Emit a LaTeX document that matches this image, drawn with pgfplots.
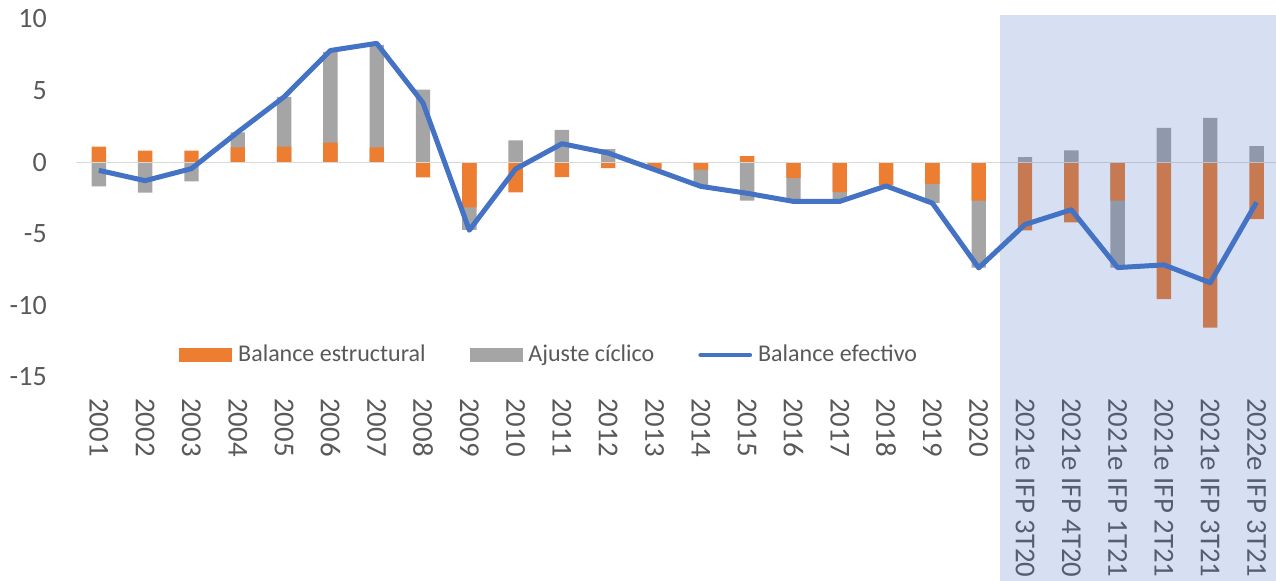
\documentclass[border=0pt]{standalone}
\usepackage{pgfplots}
\usepackage{pgfplotstable}
\pgfplotsset{compat=1.18}
\usepackage{fontspec}
\setmainfont{Carlito}
\definecolor{cOr}{HTML}{ED7D31}
\definecolor{cGr}{HTML}{A5A5A5}
\definecolor{cBl}{HTML}{4472C4}
\definecolor{cTx}{HTML}{595959}
\definecolor{cZero}{HTML}{D9D9D9}
\pgfplotstableread{
x or gr bal
0 1.08 -1.69 -0.57
1 0.80 -2.13 -1.29
2 0.80 -1.34 -0.45
3 1.04 2.09 2.10
4 1.08 4.56 4.56
5 1.36 7.70 7.80
6 1.04 8.20 8.30
7 -1.06 5.07 4.14
8 -3.16 -4.72 -4.75
9 -2.11 1.53 -0.47
10 -1.04 2.25 1.29
11 -0.41 0.92 0.64
12 -0.50 0.00 -0.52
13 -0.52 -1.62 -1.69
14 0.43 -2.69 -2.17
15 -1.10 -2.62 -2.74
16 -2.09 -2.62 -2.74
17 -1.62 0.00 -1.66
18 -1.52 -2.86 -2.86
19 -2.69 -7.36 -7.38
20 -4.77 0.35 -4.35
21 -4.20 0.83 -3.32
22 -2.69 -7.36 -7.36
23 -9.57 2.39 -7.17
24 -11.55 3.09 -8.42
25 -3.97 1.13 -2.80
}\data
\begin{document}
\begin{tikzpicture}
\useasboundingbox (0,0) rectangle (638pt,290.5pt);
\begin{axis}[
  at={(37.85pt,102pt)}, anchor=south west,
  width=602pt, height=179pt, scale only axis,
  xmin=-0.5, xmax=25.5, ymin=-15, ymax=10,
  clip=false,
  axis line style={draw=none},
  tick style={draw=none}, major tick length=0pt,
  ytick={-15,-10,-5,0,5,10},
  yticklabels={-15,-10,-5,0,5,10},
  xtick={0,...,25},
  xticklabels={2001,2002,2003,2004,2005,2006,2007,2008,2009,2010,2011,2012,2013,2014,2015,2016,2017,2018,2019,2020,{2021e IFP 3T20},{2021e IFP 4T20},{2021e IFP 1T21},{2021e IFP 2T21},{2021e IFP 3T21},{2022e IFP 3T21}},
  yticklabel style={anchor=east, inner sep=0pt, xshift=-14.3pt, font=\fontsize{14}{16}\selectfont, text=cTx},
  xticklabel style={yshift=-10.5pt, rotate=-90, anchor=west, inner sep=0pt, font=\fontsize{14.4}{16}\selectfont, text=cTx},
  legend columns=3,
  legend style={at={(rel axis cs:0.0858,0.0615)}, anchor=west, draw=none, fill=none, inner sep=0pt,
    font=\fontsize{12}{14}\selectfont, text=cTx,
    nodes={inner sep=0pt},
    /tikz/every odd column/.append style={column sep=3pt},
    /tikz/every even column/.append style={column sep=22pt}},
  legend cell align=left,
]
\addlegendimage{legend image code/.code={\fill[cOr] (0pt,-3.35pt) rectangle (26pt,3.35pt);}}
\addlegendentry{Balance estructural}
\addlegendimage{legend image code/.code={\fill[cGr] (0pt,-3.35pt) rectangle (26pt,3.35pt);}}
\addlegendentry{Ajuste cíclico}
\addlegendimage{legend image code/.code={\draw[cBl, line width=2.3pt, line cap=round] (1.2pt,0pt) -- (25.8pt,0pt);}}
\addlegendentry{Balance efectivo}
\addplot[ybar, bar width=7.2pt, bar shift=0pt, fill=cGr, draw=none, forget plot] table[x=x,y=gr]{\data};
\addplot[ybar, bar width=7.2pt, bar shift=0pt, fill=cOr, draw=none, forget plot] table[x=x,y=or]{\data};
\draw[cZero, line width=0.6pt] (axis cs:-0.5,0) -- (axis cs:26,0);
\fill[cBl, opacity=0.22] (axis cs:19.45,10.3) rectangle (axis cs:26,-30);
\addplot[cBl, line width=2.5pt, line join=round, mark=none, forget plot] table[x=x,y=bal]{\data};
\end{axis}
\end{tikzpicture}
\end{document}
